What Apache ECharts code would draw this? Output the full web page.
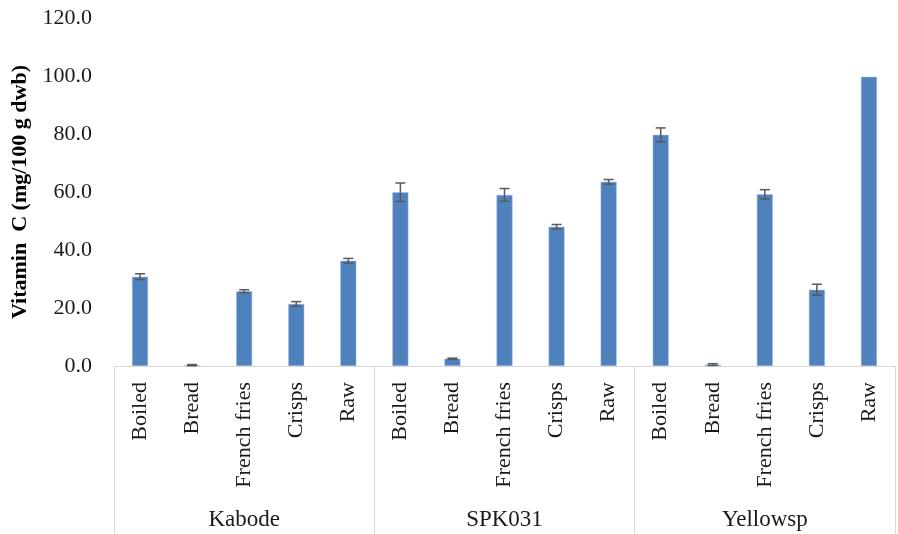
<!DOCTYPE html>
<html>
<head>
<meta charset="utf-8">
<script src="https://cdn.jsdelivr.net/npm/echarts@6/dist/echarts.min.js"></script>
<style>
html,body{margin:0;padding:0;background:#fff}
#board{width:898px;height:534px}
</style>
</head>
<body>
<div id="board"></div>
<script>
// values
let categories = ['Boiled','Bread','French fries','Crisps','Raw',
                  'Boiled','Bread','French fries','Crisps','Raw',
                  'Boiled','Bread','French fries','Crisps','Raw']
let groups = ['Kabode','SPK031','Yellowsp']
let vitaminC = [30.8, 0.3, 25.8, 21.4, 36.3,
                59.9, 2.5, 59.0, 48.0, 63.5,
                79.7, 0.5, 59.2, 26.3, 99.7]
let errors = [1.0, 0.2, 0.5, 0.8, 0.8,
              3.2, 0.2, 2.2, 0.8, 0.8,
              2.4, 0.3, 1.6, 1.9, 0]
let yTicks = [0, 20, 40, 60, 80, 100, 120]

let font = 'Liberation Serif'
let myChart = echarts.init(document.getElementById('board'))

myChart.setOption({
  animation: false,
  grid: {left: 114, right: 3, top: 18, bottom: 168},
  xAxis: [
    {
      type: 'category',
      data: categories,
      axisLine: {lineStyle: {color: '#d9d9d9'}},
      axisTick: {show: false},
      axisLabel: {
        interval: 0, rotate: 90, margin: 16,
        fontFamily: font, fontSize: 22, color: '#1a1a1a'
      }
    },
    {
      type: 'category',
      data: groups,
      position: 'bottom',
      axisLine: {show: false},
      axisTick: {show: true, length: 168, interval: 0, lineStyle: {color: '#d9d9d9'}},
      axisLabel: {interval: 0, margin: 142, fontFamily: font, fontSize: 23, color: '#1a1a1a'}
    }
  ],
  yAxis: {
    type: 'value',
    min: yTicks[0], max: yTicks[yTicks.length - 1], interval: 20,
    name: 'Vitamin  C (mg/100 g dwb)',
    nameLocation: 'middle',
    nameGap: 75,
    nameTextStyle: {fontFamily: font, fontSize: 22, fontWeight: 'bold', color: '#000'},
    axisLine: {show: false},
    axisTick: {show: false},
    splitLine: {show: false},
    axisLabel: {
      margin: 22, fontFamily: font, fontSize: 22, color: '#1a1a1a',
      formatter: v => v.toFixed(1)
    }
  },
  series: [
    {
      type: 'bar',
      data: vitaminC,
      barWidth: 16,
      itemStyle: {color: '#4f81bd', borderColor: '#a9c1e0', borderWidth: 0.5}
    },
    {
      type: 'custom',
      data: vitaminC.map((v, i) => [i, v - errors[i], v + errors[i]]),
      z: 10,
      renderItem: (params, api) => {
        if (errors[params.dataIndex] <= 0) return
        let lo = api.coord([api.value(0), api.value(1)])
        let hi = api.coord([api.value(0), api.value(2)])
        let w = 5
        let style = {stroke: '#595959', lineWidth: 1.5}
        return {
          type: 'group',
          children: [
            {type: 'line', shape: {x1: lo[0], y1: lo[1], x2: hi[0], y2: hi[1]}, style: style},
            {type: 'line', shape: {x1: lo[0] - w, y1: lo[1], x2: lo[0] + w, y2: lo[1]}, style: style},
            {type: 'line', shape: {x1: hi[0] - w, y1: hi[1], x2: hi[0] + w, y2: hi[1]}, style: style}
          ]
        }
      }
    }
  ]
})
</script>
</body>
</html>
